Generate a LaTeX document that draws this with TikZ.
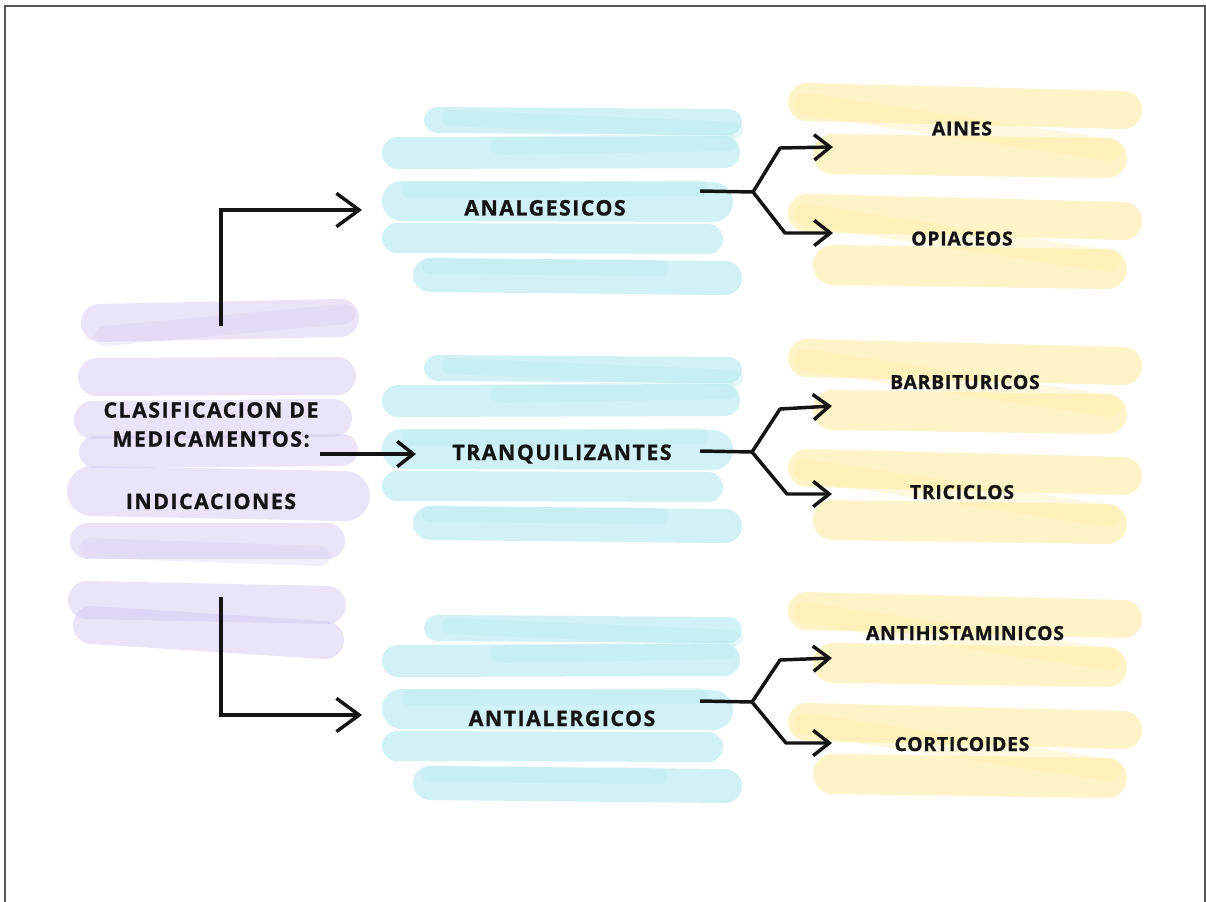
\documentclass[tikz,border=0pt]{standalone}
\usepackage{fontspec}
\setmainfont{Open Sans}
\newfontfamily\lblfont[LetterSpace=7, BoldFeatures={FakeBold=1}]{Open Sans}
\newfontfamily\sublblfont[LetterSpace=4, BoldFeatures={FakeBold=1}]{Open Sans}
\usetikzlibrary{arrows.meta}
\definecolor{cy}{HTML}{B2E9EF}
\definecolor{ye}{HTML}{FFEB99}
\definecolor{pu}{HTML}{D9C8F3}
\definecolor{ink}{HTML}{141414}
\definecolor{framec}{HTML}{555555}
\tikzset{
  cs/.style={draw=cy, line width=#1*0.75pt, line cap=round, draw opacity=0.6},
  cst/.style={draw=cy, line width=#1*0.75pt, line cap=round, draw opacity=0.3},
  ys/.style={draw=ye, line width=#1*0.75pt, line cap=round, draw opacity=0.55},
  yst/.style={draw=ye, line width=#1*0.75pt, line cap=round, draw opacity=0.3},
  ps/.style={draw=pu, line width=#1*0.75pt, line cap=round, draw opacity=0.5},
  pst/.style={draw=pu, line width=#1*0.75pt, line cap=round, draw opacity=0.3},
  mainlbl/.style={font=\lblfont\bfseries\fontsize{16}{21.75}\selectfont, text=ink, inner sep=0pt, anchor=base},
  sublbl/.style={font=\sublblfont\bfseries\fontsize{14.5}{16}\selectfont, text=ink, inner sep=0pt, anchor=base},
  bigarr/.style={draw=ink, line width=2.6pt, line join=miter, -{Straight Barb[length=17pt,width=25pt,line width=2.6pt]}},
  smallarr/.style={draw=ink, line width=2.6pt, line join=round, -{Straight Barb[length=12pt,width=19pt,line width=2.6pt]}},
}
\newcommand\cyanblob[1]{%
  \begin{scope}[shift={(0,#1)}]
    \draw[cs=26] (437,120) -- (729,122);
    \draw[cst=16] (450,118) -- (735,130);
    \draw[cs=32] (398,153) -- (724,152);
    \draw[cst=18] (500,146) -- (728,142);
    \draw[cs=40] (402,201) -- (713,202);
    \draw[cst=16] (410,190) -- (700,188);
    \draw[cs=30] (397,238) -- (708,239);
    \draw[cs=34] (430,275) -- (725,278);
    \draw[cst=16] (430,266) -- (660,268);
  \end{scope}}
\newcommand\yelblob[1]{%
  \begin{scope}[shift={(0,#1)}]
    \draw[ys=38] (807,-26) -- (1123,-18);
    \draw[ys=40] (833,26) -- (1107,30);
    \draw[yst=22] (805,-24) -- (1110,22);
  \end{scope}}
\begin{document}
\begin{tikzpicture}[x=0.75pt,y=-0.75pt]
\useasboundingbox (0,0) rectangle (1206,902);
\fill[white] (0,0) rectangle (1206,902);
\draw[framec, line width=2.2pt] (5,904) -- (5,6) -- (1205,6) -- (1205,904);

% purple root blob
\draw[ps=38] (100,323) -- (340,318);
\draw[pst=20] (105,336) -- (345,314);
\draw[ps=38] (97,377) -- (337,376);
\draw[ps=38] (93,420) -- (333,418);
\draw[ps=32] (95,452) -- (342,450);
\draw[ps=50] (92,491) -- (345,496);
\draw[ps=36] (88,541) -- (327,541);
\draw[pst=20] (90,548) -- (320,556);
\draw[ps=38] (87,600) -- (327,605);
\draw[ps=38] (92,625) -- (325,640);

% cyan blobs
\cyanblob{0}
\cyanblob{248}
\cyanblob{508}

% yellow blobs
\yelblob{128}
\yelblob{239}
\yelblob{384}
\yelblob{494}
\yelblob{637}
\yelblob{748}

% labels
\node[mainlbl, align=center] (root) at (211,509) {CLASIFICACION DE\\MEDICAMENTOS:\\[25pt]INDICACIONES};
\node[mainlbl] (analg) at (545,215.5) {ANALGESICOS};
\node[mainlbl] (tranq) at (562,460) {TRANQUILIZANTES};
\node[mainlbl] (antial) at (562,726) {ANTIALERGICOS};
\node[sublbl] (aines) at (962,135.5) {AINES};
\node[sublbl] (opia) at (962,245.5) {OPIACEOS};
\node[sublbl] (barb) at (965,389) {BARBITURICOS};
\node[sublbl] (trici) at (962,499) {TRICICLOS};
\node[sublbl] (antih) at (965,640) {ANTIHISTAMINICOS};
\node[sublbl] (corti) at (962,751) {CORTICOIDES};

% connector coordinates
\coordinate (r-top) at (221,326);
\coordinate (r-mid) at (320,454);
\coordinate (r-bot) at (221,597);
\coordinate (analg-in) at (362,210);
\coordinate (tranq-in) at (416,454);
\coordinate (antial-in) at (362,715);

\coordinate (analg-out) at (700,191);
\coordinate (analg-fk) at (753,192);
\coordinate (analg-up) at (780,148);
\coordinate (analg-dn) at (785,233);
\coordinate (aines-in) at (833,147);
\coordinate (opia-in) at (833,233);

\coordinate (tranq-out) at (700,451);
\coordinate (tranq-fk) at (752,452);
\coordinate (tranq-up) at (780,409);
\coordinate (tranq-dn) at (787,494);
\coordinate (barb-in) at (832,406);
\coordinate (trici-in) at (832,494);

\coordinate (antial-out) at (700,701);
\coordinate (antial-fk) at (752,702);
\coordinate (antial-up) at (780,660);
\coordinate (antial-dn) at (786,743);
\coordinate (antih-in) at (832,658);
\coordinate (corti-in) at (832,743);

% connectors
\draw[bigarr] (r-top) |- (analg-in);
\draw[smallarr] (r-mid) -- (tranq-in);
\draw[bigarr] (r-bot) |- (antial-in);

\draw[smallarr] (analg-out) -- (analg-fk) -- (analg-up) -- (aines-in);
\draw[smallarr] (analg-fk) -- (analg-dn) -- (opia-in);
\draw[smallarr] (tranq-out) -- (tranq-fk) -- (tranq-up) -- (barb-in);
\draw[smallarr] (tranq-fk) -- (tranq-dn) -- (trici-in);
\draw[smallarr] (antial-out) -- (antial-fk) -- (antial-up) -- (antih-in);
\draw[smallarr] (antial-fk) -- (antial-dn) -- (corti-in);
\end{tikzpicture}
\end{document}
